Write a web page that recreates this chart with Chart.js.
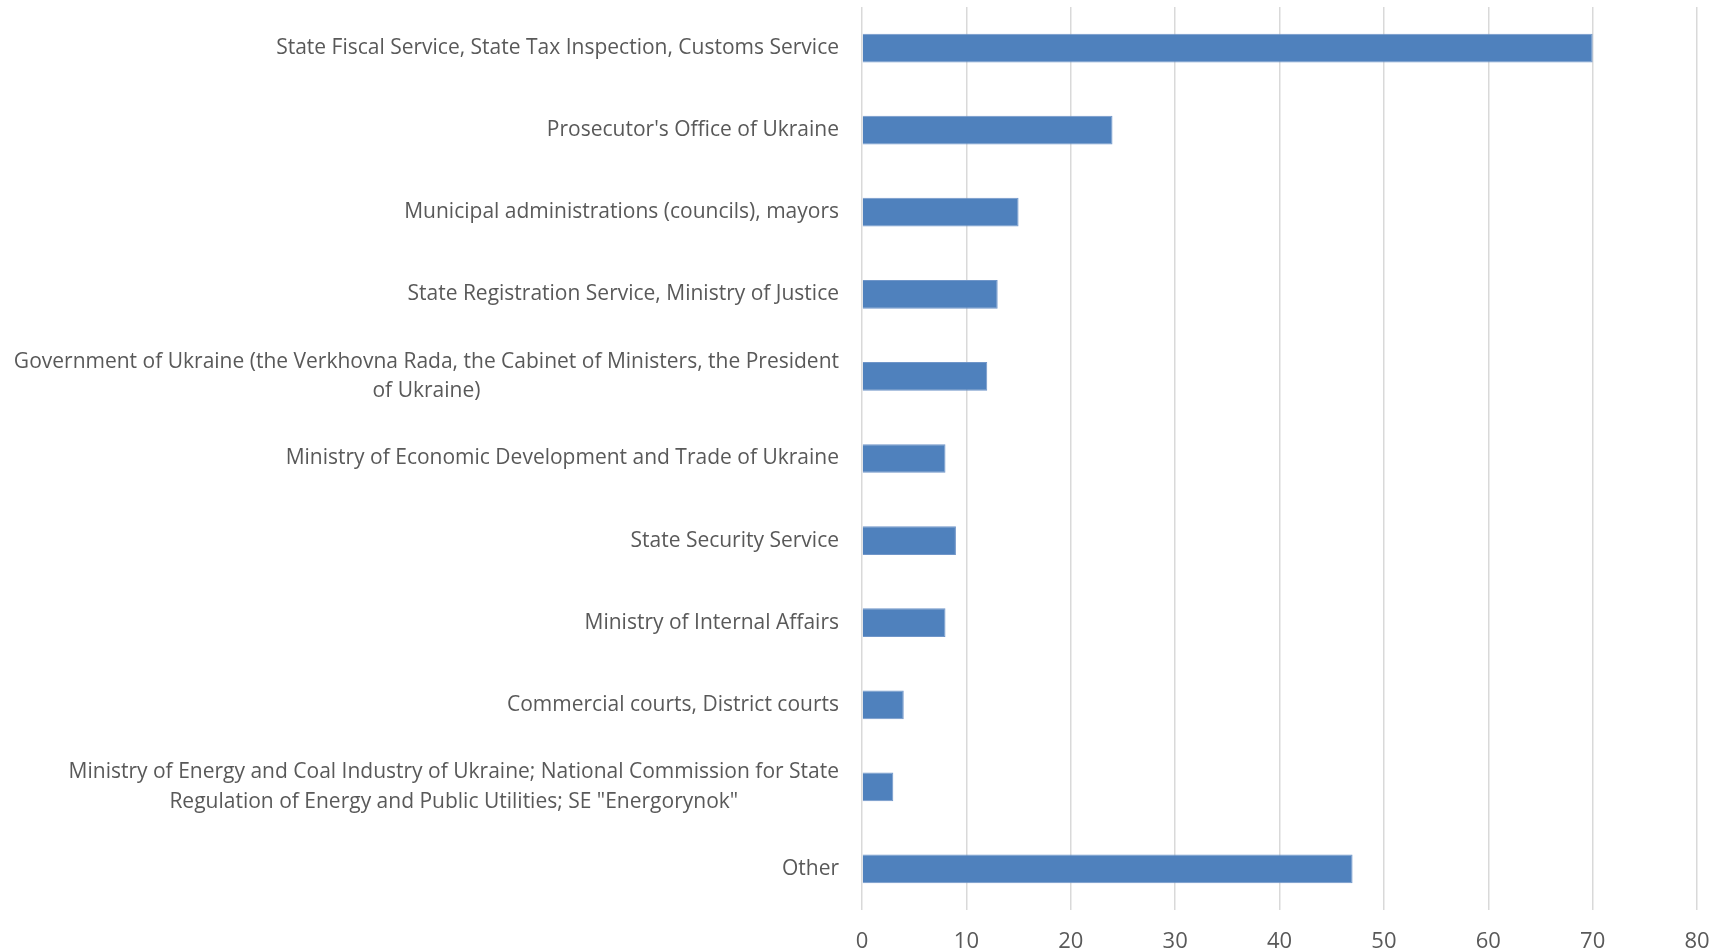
<!DOCTYPE html>
<html>
<head>
<meta charset="utf-8">
<title>Complaints by authority</title>
<script src="https://cdn.jsdelivr.net/npm/chart.js@4.4.1/dist/chart.umd.min.js"></script>
<style>
    html, body { margin: 0; padding: 0; background: #ffffff; }
    #wrap { width: 1719px; height: 950px; }
</style>
</head>
<body>
<div id="wrap"><canvas id="barChart" width="1719" height="950"></canvas></div>
<script>
// data
const categories = [
    "State Fiscal Service, State Tax Inspection, Customs Service",
    "Prosecutor's Office of Ukraine",
    "Municipal administrations (councils), mayors",
    "State Registration Service, Ministry of Justice",
    ["Government of Ukraine (the Verkhovna Rada, the Cabinet of Ministers, the President", "of Ukraine)"],
    "Ministry of Economic Development and Trade of Ukraine",
    "State Security Service",
    "Ministry of Internal Affairs",
    "Commercial courts, District courts",
    ["Ministry of Energy and Coal Industry of Ukraine; National Commission for State", "Regulation of Energy and Public Utilities; SE \"Energorynok\""],
    "Other",
];
const values = [70, 24, 15, 13, 12, 8, 9, 8, 4, 3, 47];
const xTicks = [0, 10, 20, 30, 40, 50, 60, 70, 80];

const textColor = "#595959";
const fontFamily = "'Open Sans', sans-serif";
const labelSize = 21;

// category labels: right aligned block, lines centred inside it (like Excel)
const categoryLabels = {
    id: "categoryLabels",
    afterDraw(chart) {
        const ctx = chart.ctx;
        const yScale = chart.scales.y;
        const right = chart.chartArea.left - 23;
        const lineH = 29.6;
        ctx.save();
        ctx.font = labelSize + "px " + fontFamily;
        ctx.fillStyle = textColor;
        ctx.textAlign = "center";
        ctx.textBaseline = "middle";
        chart.data.labels.forEach((label, i) => {
            const lines = Array.isArray(label) ? label : [label];
            const widest = Math.max(...lines.map((l) => ctx.measureText(l).width));
            const y0 = yScale.getPixelForTick(i) - ((lines.length - 1) * lineH) / 2;
            lines.forEach((line, j) => {
                ctx.fillText(line, right - widest / 2, y0 + j * lineH);
            });
        });
        ctx.restore();
    },
};

const barChart = document.getElementById("barChart");
const barConfig = {
    type: "bar",
    data: {
        labels: categories,
        datasets: [
            {
                label: "Complaints",
                data: values,
                backgroundColor: "#4f81bd",
                borderColor: "#7096c9",
                borderWidth: 1,
                barPercentage: 0.5,
                categoryPercentage: 0.7,
            },
        ],
    },
    options: {
        indexAxis: "y",
        responsive: false,
        animation: false,
        layout: {
            padding: { top: 7, right: 0, bottom: 0, left: 0 },
        },
        plugins: {
            legend: { display: false },
            tooltip: { enabled: false },
        },
        scales: {
            x: {
                min: 0,
                max: 80,
                afterBuildTicks: (scale) => {
                    scale.ticks = xTicks.map((v) => ({ value: v }));
                },
                afterFit: (scale) => {
                    scale.height = 40;
                    scale.paddingLeft = 0;
                    scale.paddingRight = 22;
                },
                grid: {
                    color: "#d9d9d9",
                    lineWidth: 1.5,
                    drawTicks: false,
                },
                border: { display: false },
                ticks: {
                    color: textColor,
                    padding: 19,
                    maxRotation: 0,
                    font: { family: fontFamily, size: 22 },
                },
            },
            y: {
                grid: { display: false },
                border: { display: false },
                ticks: { display: false },
                afterFit: (scale) => {
                    scale.width = 862;
                },
            },
        },
    },
    plugins: [categoryLabels],
};

const complaintsChart = new Chart(barChart, barConfig);
</script>
</body>
</html>
